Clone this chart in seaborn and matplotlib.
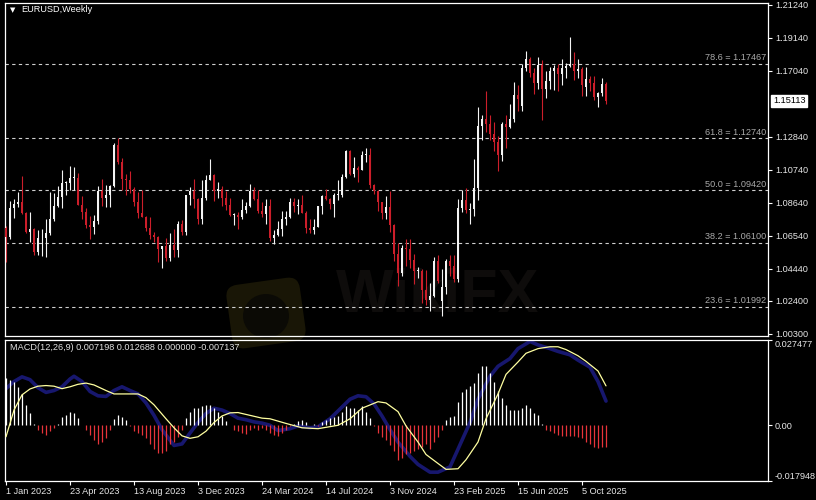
import numpy as np
import pandas as pd
import matplotlib
matplotlib.use("Agg")
import matplotlib.pyplot as plt
import seaborn as sns
from matplotlib.patches import FancyBboxPatch, Ellipse
from matplotlib.transforms import Affine2D

# weekly EURUSD candles, week 0 = week of 1 Jan 2023
week_open = [
    1.0705, 1.0645, 1.0830, 1.0855, 1.0870, 1.0795, 1.0678, 1.0694, 1.0547, 1.0636,
    1.0640, 1.0670, 1.0760, 1.0840, 1.0900, 1.0990, 1.0990, 1.1020, 1.1020, 1.0850,
    1.0805, 1.0720, 1.0710, 1.0750, 1.0940, 1.0895, 1.0910, 1.0970, 1.1230, 1.1125,
    1.1015, 1.1005, 1.0950, 1.0870, 1.0795, 1.0775, 1.0700, 1.0660, 1.0645, 1.0570,
    1.0590, 1.0510, 1.0595, 1.0565, 1.0730, 1.0680, 1.0915, 1.0940, 1.0885, 1.0760,
    1.0895, 1.1010, 1.1040, 1.0940, 1.0950, 1.0895, 1.0850, 1.0785, 1.0785, 1.0775,
    1.0820, 1.0840, 1.0940, 1.0890, 1.0810, 1.0790, 1.0840, 1.0640, 1.0655, 1.0695,
    1.0760, 1.0770, 1.0870, 1.0845, 1.0850, 1.0800, 1.0705, 1.0690, 1.0710, 1.0840,
    1.0905, 1.0885, 1.0855, 1.0910, 1.0915, 1.1030, 1.1190, 1.1045, 1.1085, 1.1075,
    1.1165, 1.1165, 1.0975, 1.0935, 1.0865, 1.0795, 1.0835, 1.0720, 1.0540, 1.0415,
    1.0575, 1.0570, 1.0500, 1.0430, 1.0430, 1.0310, 1.0245, 1.0270, 1.0495, 1.0240,
    1.0330, 1.0490, 1.0460, 1.0375, 1.0830, 1.0880, 1.0815, 1.0825, 1.0960, 1.1355,
    1.1395, 1.1365, 1.1300, 1.1250, 1.1165, 1.1365, 1.1345, 1.1395, 1.1550, 1.1480,
    1.1720, 1.1780, 1.1690, 1.1625, 1.1740, 1.1590, 1.1640, 1.1700, 1.1720, 1.1685,
    1.1720, 1.1735, 1.1745, 1.1700, 1.1715, 1.1600, 1.1650, 1.1625, 1.1535, 1.1565,
    1.1620,
]
week_high = [
    1.0713, 1.0874, 1.0887, 1.0929, 1.1033, 1.0806, 1.0805, 1.0705, 1.0691, 1.0696,
    1.0760, 1.0930, 1.0925, 1.0973, 1.1075, 1.1000, 1.1095, 1.1092, 1.1050, 1.0905,
    1.0830, 1.0780, 1.0787, 1.0970, 1.1012, 1.0975, 1.0975, 1.1245, 1.1275, 1.1150,
    1.1045, 1.1065, 1.0965, 1.0930, 1.0945, 1.0780, 1.0770, 1.0675, 1.0650, 1.0590,
    1.0640, 1.0670, 1.0695, 1.0750, 1.0755, 1.0915, 1.0965, 1.1017, 1.0895, 1.1010,
    1.1040, 1.1140, 1.1045, 1.0998, 1.0970, 1.0935, 1.0895, 1.0800, 1.0805, 1.0888,
    1.0865, 1.0981, 1.0965, 1.0942, 1.0865, 1.0885, 1.0885, 1.0690, 1.0750, 1.0810,
    1.0810, 1.0895, 1.0895, 1.0890, 1.0915, 1.0810, 1.0760, 1.0760, 1.0845, 1.0910,
    1.0950, 1.0895, 1.0925, 1.1010, 1.1045, 1.1200, 1.1200, 1.1155, 1.1100, 1.1190,
    1.1215, 1.1210, 1.0985, 1.0945, 1.0870, 1.0905, 1.0935, 1.0725, 1.0610, 1.0595,
    1.0630, 1.0630, 1.0535, 1.0455, 1.0440, 1.0435, 1.0355, 1.0520, 1.0530, 1.0440,
    1.0505, 1.0530, 1.0530, 1.0890, 1.0945, 1.0955, 1.0860, 1.1145, 1.1475, 1.1425,
    1.1575, 1.1425, 1.1380, 1.1290, 1.1375, 1.1420, 1.1495, 1.1630, 1.1615, 1.1745,
    1.1830, 1.1790, 1.1720, 1.1790, 1.1770, 1.1700, 1.1730, 1.1740, 1.1745, 1.1780,
    1.1755, 1.1920, 1.1820, 1.1780, 1.1730, 1.1730, 1.1670, 1.1670, 1.1570, 1.1655,
    1.1630,
]
week_low = [
    1.0483, 1.0633, 1.0766, 1.0835, 1.0790, 1.0669, 1.0613, 1.0533, 1.0533, 1.0524,
    1.0516, 1.0660, 1.0745, 1.0835, 1.0830, 1.0910, 1.0945, 1.0942, 1.0848, 1.0760,
    1.0700, 1.0635, 1.0665, 1.0730, 1.0845, 1.0835, 1.0835, 1.0965, 1.1110, 1.0945,
    1.0912, 1.0925, 1.0845, 1.0765, 1.0770, 1.0685, 1.0630, 1.0615, 1.0488, 1.0448,
    1.0495, 1.0495, 1.0520, 1.0520, 1.0655, 1.0655, 1.0850, 1.0830, 1.0725, 1.0725,
    1.0880, 1.1010, 1.0877, 1.0895, 1.0845, 1.0820, 1.0780, 1.0722, 1.0695, 1.0760,
    1.0795, 1.0835, 1.0880, 1.0800, 1.0775, 1.0725, 1.0620, 1.0600, 1.0650, 1.0650,
    1.0720, 1.0765, 1.0805, 1.0790, 1.0795, 1.0668, 1.0670, 1.0665, 1.0710, 1.0790,
    1.0880, 1.0825, 1.0775, 1.0880, 1.0900, 1.1020, 1.1040, 1.1025, 1.0995, 1.1070,
    1.1120, 1.0955, 1.0920, 1.0810, 1.0760, 1.0760, 1.0680, 1.0495, 1.0335, 1.0400,
    1.0460, 1.0450, 1.0345, 1.0385, 1.0225, 1.0215, 1.0175, 1.0265, 1.0350, 1.0140,
    1.0285, 1.0400, 1.0360, 1.0360, 1.0805, 1.0795, 1.0730, 1.0780, 1.0880, 1.1265,
    1.1315, 1.1265, 1.1195, 1.1065, 1.1130, 1.1210, 1.1340, 1.1375, 1.1445, 1.1450,
    1.1700, 1.1665, 1.1555, 1.1590, 1.1390, 1.1530, 1.1590, 1.1580, 1.1575, 1.1610,
    1.1660, 1.1725, 1.1645, 1.1655, 1.1540, 1.1545, 1.1575, 1.1520, 1.1470, 1.1545,
    1.1490,
]
week_close = [
    1.0645, 1.0830, 1.0855, 1.0870, 1.0795, 1.0678, 1.0694, 1.0547, 1.0636, 1.0640,
    1.0670, 1.0760, 1.0840, 1.0900, 1.0990, 1.0990, 1.1020, 1.1020, 1.0850, 1.0805,
    1.0720, 1.0710, 1.0750, 1.0940, 1.0895, 1.0910, 1.0970, 1.1230, 1.1125, 1.1015,
    1.1005, 1.0950, 1.0870, 1.0795, 1.0775, 1.0700, 1.0660, 1.0645, 1.0570, 1.0590,
    1.0510, 1.0595, 1.0565, 1.0730, 1.0680, 1.0915, 1.0940, 1.0885, 1.0760, 1.0895,
    1.1010, 1.1040, 1.0940, 1.0950, 1.0895, 1.0850, 1.0785, 1.0785, 1.0775, 1.0820,
    1.0840, 1.0940, 1.0890, 1.0810, 1.0790, 1.0840, 1.0640, 1.0655, 1.0695, 1.0760,
    1.0770, 1.0870, 1.0845, 1.0850, 1.0800, 1.0705, 1.0690, 1.0710, 1.0840, 1.0905,
    1.0885, 1.0855, 1.0910, 1.0915, 1.1030, 1.1190, 1.1045, 1.1085, 1.1075, 1.1165,
    1.1165, 1.0975, 1.0935, 1.0865, 1.0795, 1.0835, 1.0720, 1.0540, 1.0415, 1.0575,
    1.0570, 1.0500, 1.0430, 1.0430, 1.0310, 1.0245, 1.0270, 1.0495, 1.0365, 1.0330,
    1.0490, 1.0460, 1.0375, 1.0830, 1.0880, 1.0815, 1.0825, 1.0960, 1.1355, 1.1395,
    1.1365, 1.1300, 1.1250, 1.1165, 1.1365, 1.1345, 1.1395, 1.1550, 1.1525, 1.1720,
    1.1780, 1.1690, 1.1625, 1.1740, 1.1590, 1.1640, 1.1700, 1.1720, 1.1685, 1.1720,
    1.1735, 1.1745, 1.1700, 1.1715, 1.1610, 1.1650, 1.1625, 1.1535, 1.1565, 1.1620,
    1.15113,
]

fib_levels = [78.6, 61.8, 50.0, 38.2, 23.6]
fib_prices = [1.17467, 1.12740, 1.09420, 1.06100, 1.01992]

price_ticks = [1.21240, 1.19140, 1.17040, 1.12840, 1.10740, 1.08640,
               1.06540, 1.04440, 1.02400, 1.00300]
last_price = 1.15113

date_weeks = [0, 16, 32, 48, 64, 80, 96, 112, 128, 144]
date_labels = ["1 Jan 2023", "23 Apr 2023", "13 Aug 2023", "3 Dec 2023", "24 Mar 2024",
               "14 Jul 2024", "3 Nov 2024", "23 Feb 2025", "15 Jun 2025", "5 Oct 2025"]

# MACD(12,26,9) panel
macd_hist = [
    0.0152, 0.0147, 0.0141, 0.0124, 0.0101, 0.0066, 0.0038, 0.0003, -0.0014, -0.0025,
    -0.0031, -0.0019, -0.0008, 0.0003, 0.0026, 0.0034, 0.0044, 0.0041, 0.0023, 0.0002,
    -0.0014, -0.0031, -0.0048, -0.0060, -0.0054, -0.0042, -0.0014, 0.0021, 0.0034, 0.0026,
    0.0018, -0.0003, -0.0019, -0.0025, -0.0031, -0.0042, -0.0060, -0.0077, -0.0088, -0.0088,
    -0.0082, -0.0060, -0.0054, -0.0037, -0.0014, 0.0023, 0.0044, 0.0055, 0.0055, 0.0061,
    0.0066, 0.0064, 0.0057, 0.0044, 0.0030, 0.0015, 0.0002, -0.0014, -0.0019, -0.0025,
    -0.0027, -0.0014, -0.0008, -0.0014, -0.0008, -0.0014, -0.0025, -0.0030, -0.0033, -0.0025,
    -0.0014, -0.0003, 0.0003, 0.0015, 0.0018, 0.0009, 0.0001, 0.0003, -0.0002, 0.0011,
    0.0018, 0.0023, 0.0026, 0.0030, 0.0044, 0.0061, 0.0055, 0.0057, 0.0049, 0.0061,
    0.0044, 0.0023, -0.0003, -0.0025, -0.0037, -0.0048, -0.0065, -0.0082, -0.0111, -0.0105,
    -0.0094, -0.0088, -0.0082, -0.0077, -0.0071, -0.0060, -0.0077, -0.0054, -0.0037, -0.0014,
    0.0018, 0.0026, 0.0030, 0.0076, 0.0107, 0.0118, 0.0126, 0.0135, 0.0169, 0.0190,
    0.0190, 0.0169, 0.0140, 0.0112, 0.0087, 0.0064, 0.0049, 0.0049, 0.0049, 0.0055,
    0.0064, 0.0055, 0.0038, 0.0032, 0.0005, -0.0014, -0.0019, -0.0025, -0.0031, -0.0034,
    -0.0034, -0.0034, -0.0034, -0.0037, -0.0042, -0.0054, -0.0060, -0.0071, -0.0073, -0.0071,
    -0.0071,
]
macd_weeks = [0, 2, 4, 6, 8, 10, 12, 14, 16, 17, 19, 21, 23, 25, 27, 29, 31, 33, 35, 37,
              39, 41, 42, 44, 46, 48, 50, 52, 54, 56, 58, 60, 62, 64, 66, 68, 71, 73, 76, 78,
              81, 83, 86, 88, 90, 92, 94, 96, 98, 101, 103, 106, 108, 111, 113, 116, 118, 121, 123, 126,
              128, 131, 133, 136, 138, 141, 143, 146, 148, 150]
macd_line = [0.0118, 0.0141, 0.0156, 0.0147, 0.0121, 0.0106, 0.0112, 0.0124, 0.0149, 0.0158,
             0.0141, 0.0109, 0.0095, 0.0093, 0.0112, 0.0124, 0.0112, 0.0101, 0.0072, 0.0032,
             -0.0014, -0.0048, -0.0065, -0.0060, -0.0025, 0.0009, 0.0038, 0.0055, 0.0049, 0.0038,
             0.0023, 0.0018, 0.0011, 0.0007, 0.0000, -0.0017, -0.0011, -0.0002, -0.0008, -0.0005,
             0.0021, 0.0046, 0.0084, 0.0095, 0.0092, 0.0069, 0.0030, -0.0014, -0.0054, -0.0100,
             -0.0126, -0.0151, -0.0151, -0.0134, -0.0077, 0.0009, 0.0084, 0.0158, 0.0190, 0.0215,
             0.0247, 0.0270, 0.0259, 0.0247, 0.0238, 0.0227, 0.0210, 0.0187, 0.0141, 0.0078]
signal_weeks = [0, 2, 4, 6, 8, 10, 12, 14, 16, 18, 20, 22, 25, 27, 30, 33, 35, 37, 40, 42,
                44, 46, 48, 50, 52, 54, 56, 58, 61, 64, 66, 70, 74, 78, 83, 86, 89, 93, 95, 98,
                100, 103, 105, 108, 110, 113, 115, 118, 120, 123, 125, 128, 130, 133, 136, 138, 140, 143, 145, 148,
                150]
signal_line = [-0.0037, 0.0049, 0.0098, 0.0117, 0.0126, 0.0128, 0.0126, 0.0118, 0.0124, 0.0132,
               0.0136, 0.0130, 0.0112, 0.0101, 0.0101, 0.0101, 0.0089, 0.0066, 0.0021, -0.0008,
               -0.0034, -0.0042, -0.0037, -0.0019, 0.0009, 0.0030, 0.0040, 0.0041, 0.0032, 0.0023,
               0.0021, 0.0006, -0.0008, -0.0011, 0.0000, 0.0021, 0.0055, 0.0076, 0.0072, 0.0044,
               -0.0002, -0.0054, -0.0094, -0.0123, -0.0142, -0.0140, -0.0111, -0.0054, 0.0021, 0.0101,
               0.0164, 0.0204, 0.0232, 0.0247, 0.0253, 0.0253, 0.0244, 0.0224, 0.0206, 0.0175,
               0.0127]

sns.set_style("dark", {"axes.facecolor": "black", "figure.facecolor": "black",
                       "axes.edgecolor": "white"})
plt.rcParams["font.family"] = ["Liberation Sans", "DejaVu Sans"]
plt.rcParams["font.size"] = 6.6

W, H = 816, 500
fig = plt.figure(figsize=(W / 100, H / 100), dpi=100)
fig.patch.set_facecolor("black")
ax = fig.add_axes([5 / W, 1 - 336 / H, 763 / W, 333 / H])
ax2 = fig.add_axes([5 / W, 1 - 481 / H, 763 / W, 141 / H])
for a in (ax, ax2):
    a.patch.set_alpha(0)
    a.grid(False)
    for s in a.spines.values():
        s.set_color("white")
        s.set_linewidth(0.9)

# faint watermark behind the panels, placed in pixels from the top-left
px = Affine2D().scale(1, -1).translate(0, H)
rot = Affine2D().rotate_deg_around(266, 313, -8)
logo = FancyBboxPatch((232, 284), 68, 58, boxstyle="round,pad=3,rounding_size=12",
                      fc="#191606", ec="none", zorder=-2, transform=rot + px)
fig.add_artist(logo)
hole = Ellipse((266, 316), 46, 44, fc="#0b0a05", ec="none", zorder=-1, transform=px)
fig.add_artist(hole)
fig.text(438 / W, 1 - 296 / H, "WikiFX", fontsize=44, fontweight="bold", color="#0e0c0b",
         ha="center", va="center", zorder=-1)

# candles
df = pd.DataFrame({"open": week_open, "high": week_high, "low": week_low, "close": week_close})
df["week"] = np.arange(len(df))
colors = np.where(df["close"] >= df["open"], "#f4f4f4", "#cc1e2a")
ax.vlines(df["week"], df["low"], df["high"], colors=colors, linewidth=0.8, zorder=2)
body = (df["close"] - df["open"]).abs().clip(lower=0.0006)
ax.bar(df["week"], body, bottom=df[["open", "close"]].min(axis=1), width=0.7,
       color=colors, linewidth=0, zorder=3)

# fibonacci levels
for lvl, p in zip(fib_levels, fib_prices):
    ax.axhline(p, color="#cfcfcf", lw=0.8, ls=(0, (3, 3)), zorder=1)
    ax.annotate(f"{lvl:.1f} = {p:.5f}", xy=(0.998, p), xycoords=("axes fraction", "data"),
                xytext=(0, 1.2), textcoords="offset points", ha="right", va="bottom",
                color="#a9a9a9", fontsize=6.6)

ax.set_xlim(-0.25, 190.5)
ax.set_ylim(1.0015, 1.2135)
ax.set_xticks([])
ax.yaxis.tick_right()
ax.set_yticks(price_ticks)
ax.set_yticklabels([f"{v:.5f}" for v in price_ticks])
ax.tick_params(axis="y", right=True, left=False, colors="white", labelcolor="#e6e6e6",
               length=3, width=0.8, pad=2, labelsize=6.6, direction="out")
ax.text(1 + 5 / 763, last_price, f"{last_price:.5f}", transform=ax.get_yaxis_transform(),
        ha="left", va="center", color="black", fontsize=6.6, zorder=5, clip_on=False,
        bbox=dict(boxstyle="square,pad=0.18", fc="white", ec="white"))

fig.text(12.5 / W, 1 - 10.5 / H, "▼", fontsize=5, color="white", ha="center", va="center",
         family="DejaVu Sans")
fig.text(21 / W, 1 - 10 / H, "EURUSD,Weekly", color="white", va="center", fontsize=6.6)

# MACD panel
hist = np.array(macd_hist)
sns.lineplot(x=macd_weeks, y=macd_line, ax=ax2, color="#17176e", linewidth=2.6, zorder=2)
ax2.vlines(np.arange(len(hist)), 0, hist, colors=np.where(hist >= 0, "white", "#e8343a"),
           linewidth=0.9, zorder=3)
sns.lineplot(x=signal_weeks, y=signal_line, ax=ax2, color="#ffffa0", linewidth=0.9, zorder=4)
ax2.set_xlim(-0.25, 190.5)
ax2.set_ylim(-0.017948, 0.027477)
ax2.set_xlabel("")
ax2.set_ylabel("")
ax2.yaxis.tick_right()
ax2.set_yticks([0.027477, 0.0, -0.017948])
ax2.set_yticklabels(["0.027477", "0.00", "-0.017948"])
ylabs = ax2.get_yticklabels()
ylabs[0].set_va("top")
ylabs[2].set_va("bottom")
ax2.tick_params(axis="y", right=True, left=False, colors="white", labelcolor="#e6e6e6",
                length=3, width=0.8, pad=2, labelsize=6.6, direction="out")
ax2.set_xticks(date_weeks)
ax2.set_xticklabels(date_labels, ha="left")
ax2.tick_params(axis="x", bottom=True, colors="white", labelcolor="#e6e6e6",
                length=3, width=0.8, pad=1, labelsize=6.6, direction="out")
fig.text(10 / W, 1 - 348 / H, "MACD(12,26,9) 0.007198 0.012688 0.000000 -0.007137",
         color="#e0e0e0", va="center", fontsize=6.6)

fig.savefig("out.png", dpi=100, facecolor="black")
